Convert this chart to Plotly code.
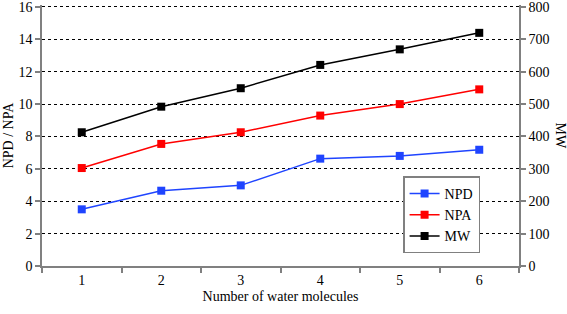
import plotly.graph_objects as go

categories = [1, 2, 3, 4, 5, 6]
npd = [3.5, 4.65, 4.98, 6.63, 6.8, 7.18]
npa = [6.05, 7.54, 8.26, 9.29, 10.0, 10.91]
mw = [413, 492, 549, 621, 669, 720]

left_ticks = [0, 2, 4, 6, 8, 10, 12, 14, 16]
right_ticks = [0, 100, 200, 300, 400, 500, 600, 700, 800]

FONT = "Liberation Serif"
AX = "#808080"
F14 = dict(family=FONT, size=14, color="black")

fig = go.Figure()
fig.add_trace(go.Scatter(x=categories, y=npd, name="NPD", mode="lines+markers",
                         line=dict(color="#1f44ff", width=1.5),
                         marker=dict(symbol="square", size=8, color="#1f44ff")))
fig.add_trace(go.Scatter(x=categories, y=npa, name="NPA", mode="lines+markers",
                         line=dict(color="#ff0000", width=1.5),
                         marker=dict(symbol="square", size=8, color="#ff0000")))
fig.add_trace(go.Scatter(x=categories, y=mw, name="MW", mode="lines+markers", yaxis="y2",
                         line=dict(color="#000000", width=1.5),
                         marker=dict(symbol="square", size=8, color="#000000")))

fig.update_layout(
    width=567, height=314,
    margin=dict(l=42, r=48, t=5, b=48, autoexpand=False),
    paper_bgcolor="white", plot_bgcolor="white",
    font=F14,
    showlegend=True,
    legend=dict(x=0.757, y=0.343, xanchor="left", yanchor="top",
                bordercolor=AX, borderwidth=1.5, bgcolor="white",
                font=F14, tracegroupgap=0, itemwidth=30),
    xaxis=dict(range=[0.5, 6.5], tickvals=categories, ticktext=[str(c) for c in categories],
               ticks="", showgrid=False, zeroline=False, automargin=False,
               showline=True, linecolor=AX, linewidth=1.5, mirror=False,
               minor=dict(tick0=0.5, dtick=1, ticks="outside", ticklen=5,
                          tickcolor=AX, tickwidth=1.5, showgrid=False),
               title=dict(text="Number of water molecules", font=F14, standoff=5),
               tickfont=F14),
    yaxis=dict(range=[0, 16.12], tickvals=left_ticks, ticks="outside", ticklen=5,
               tickcolor=AX, tickwidth=1.5, showline=True, linecolor=AX, linewidth=1.5,
               showgrid=True, gridcolor="black", griddash="dot", gridwidth=1,
               zeroline=False, automargin=False, ticklabeloverflow="allow",
               title=dict(text="NPD / NPA", font=F14, standoff=2),
               tickfont=F14),
    yaxis2=dict(range=[0, 806], tickvals=right_ticks, overlaying="y", side="right",
                ticks="outside", ticklen=5, tickcolor=AX, tickwidth=1.5,
                showline=True, linecolor=AX, linewidth=1.5, showgrid=False,
                zeroline=False, automargin=False, ticklabeloverflow="allow",
                tickfont=F14),
)

fig.add_annotation(text="MW", xref="paper", yref="paper", x=1.0, y=0.5,
                   xanchor="center", yanchor="middle",
                   xshift=41, textangle=90, showarrow=False, font=F14)

fig.write_html("out.html", config={"displayModeBar": False},
               post_script="document.body.style.margin='0';document.body.style.padding='0';")
